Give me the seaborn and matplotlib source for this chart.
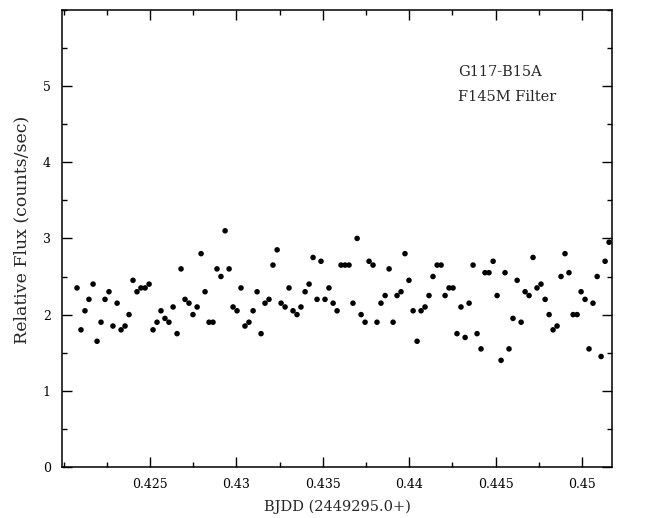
"""
G117-B15A light curve, F145M filter
"""
import matplotlib
matplotlib.use("Agg")
import matplotlib.pyplot as plt
import matplotlib.ticker as ticker
import pandas as pd
import seaborn as sns

# sample times (BJDD - 2449295.0)
bjdd = [
    0.42078, 0.42101, 0.42124, 0.42147, 0.42171, 0.42194, 0.42217, 0.42240, 0.42263, 0.42286,
    0.42310, 0.42333, 0.42356, 0.42379, 0.42402, 0.42425, 0.42448, 0.42472, 0.42495, 0.42518,
    0.42541, 0.42564, 0.42587, 0.42610, 0.42634, 0.42657, 0.42680, 0.42703, 0.42726, 0.42749,
    0.42773, 0.42796, 0.42819, 0.42842, 0.42865, 0.42888, 0.42911, 0.42935, 0.42958, 0.42981,
    0.43004, 0.43027, 0.43050, 0.43073, 0.43097, 0.43120, 0.43143, 0.43166, 0.43189, 0.43212,
    0.43236, 0.43259, 0.43282, 0.43305, 0.43328, 0.43351, 0.43374, 0.43398, 0.43421, 0.43444,
    0.43467, 0.43490, 0.43513, 0.43536, 0.43560, 0.43583, 0.43606, 0.43629, 0.43652, 0.43675,
    0.43699, 0.43722, 0.43745, 0.43768, 0.43791, 0.43814, 0.43837, 0.43861, 0.43884, 0.43907,
    0.43930, 0.43953, 0.43976, 0.43999, 0.44023, 0.44046, 0.44069, 0.44092, 0.44115, 0.44138,
    0.44162, 0.44185, 0.44208, 0.44231, 0.44254, 0.44277, 0.44300, 0.44324, 0.44347, 0.44370,
    0.44393, 0.44416, 0.44439, 0.44462, 0.44486, 0.44509, 0.44532, 0.44555, 0.44578, 0.44601,
    0.44625, 0.44648, 0.44671, 0.44694, 0.44717, 0.44740, 0.44763, 0.44787, 0.44810, 0.44833,
    0.44856, 0.44879, 0.44902, 0.44925, 0.44949, 0.44972, 0.44995, 0.45018, 0.45041, 0.45064,
    0.45088, 0.45111, 0.45134, 0.45157,
]

# relative flux (counts/sec)
flux = [
    2.35, 1.80, 2.05, 2.20, 2.40, 1.65, 1.90, 2.20, 2.30, 1.85,
    2.15, 1.80, 1.85, 2.00, 2.45, 2.30, 2.35, 2.35, 2.40, 1.80,
    1.90, 2.05, 1.95, 1.90, 2.10, 1.75, 2.60, 2.20, 2.15, 2.00,
    2.10, 2.80, 2.30, 1.90, 1.90, 2.60, 2.50, 3.10, 2.60, 2.10,
    2.05, 2.35, 1.85, 1.90, 2.05, 2.30, 1.75, 2.15, 2.20, 2.65,
    2.85, 2.15, 2.10, 2.35, 2.05, 2.00, 2.10, 2.30, 2.40, 2.75,
    2.20, 2.70, 2.20, 2.35, 2.15, 2.05, 2.65, 2.65, 2.65, 2.15,
    3.00, 2.00, 1.90, 2.70, 2.65, 1.90, 2.15, 2.25, 2.60, 1.90,
    2.25, 2.30, 2.80, 2.45, 2.05, 1.65, 2.05, 2.10, 2.25, 2.50,
    2.65, 2.65, 2.25, 2.35, 2.35, 1.75, 2.10, 1.70, 2.15, 2.65,
    1.75, 1.55, 2.55, 2.55, 2.70, 2.25, 1.40, 2.55, 1.55, 1.95,
    2.45, 1.90, 2.30, 2.25, 2.75, 2.35, 2.40, 2.20, 2.00, 1.80,
    1.85, 2.50, 2.80, 2.55, 2.00, 2.00, 2.30, 2.20, 1.55, 2.15,
    2.50, 1.45, 2.70, 2.95,
]

x_major = [0.425, 0.43, 0.435, 0.44, 0.445, 0.45]
y_major = [0, 1, 2, 3, 4, 5]

if __name__ == "__main__":

    sns.set_style("ticks")
    plt.rcParams["font.family"] = ["DejaVu Serif"]

    df = pd.DataFrame({"time": bjdd, "flux": flux})

    f = plt.figure(figsize=(6.49, 5.18), dpi=100)
    ax = f.add_axes([0.0955, 0.0985, 0.8475, 0.8825])

    sns.scatterplot(data=df, x="time", y="flux", ax=ax, color="black",
                    s=16, linewidth=0, edgecolor="none")

    ax.set_xlim(0.41991, 0.45174)
    ax.set_ylim(0, 6)
    ax.set_xticks(x_major)
    ax.set_yticks(y_major)
    ax.xaxis.set_minor_locator(ticker.MultipleLocator(0.0025))
    ax.yaxis.set_minor_locator(ticker.MultipleLocator(0.5))
    ax.xaxis.set_major_formatter(ticker.FormatStrFormatter("%g"))
    ax.tick_params(which="both", direction="in", top=True, right=True,
                   width=1, colors="black", labelsize=9)
    ax.tick_params(which="major", length=7, pad=8)
    ax.tick_params(which="minor", length=3.5)
    for sp in ax.spines.values():
        sp.set_linewidth(1.1)
        sp.set_color("black")

    ax.set_xlabel("BJDD (2449295.0+)", fontsize=10.5, labelpad=6)
    ax.set_ylabel("Relative Flux (counts/sec)", fontsize=12.5)
    ax.yaxis.set_label_coords(-0.057, 0.518)

    ax.text(0.72, 0.864, "G117-B15A", transform=ax.transAxes, fontsize=10.5,
            va="center", ha="left")
    ax.text(0.72, 0.809, "F145M Filter", transform=ax.transAxes, fontsize=10.5,
            va="center", ha="left")

    plt.savefig("out.png", dpi=100)
